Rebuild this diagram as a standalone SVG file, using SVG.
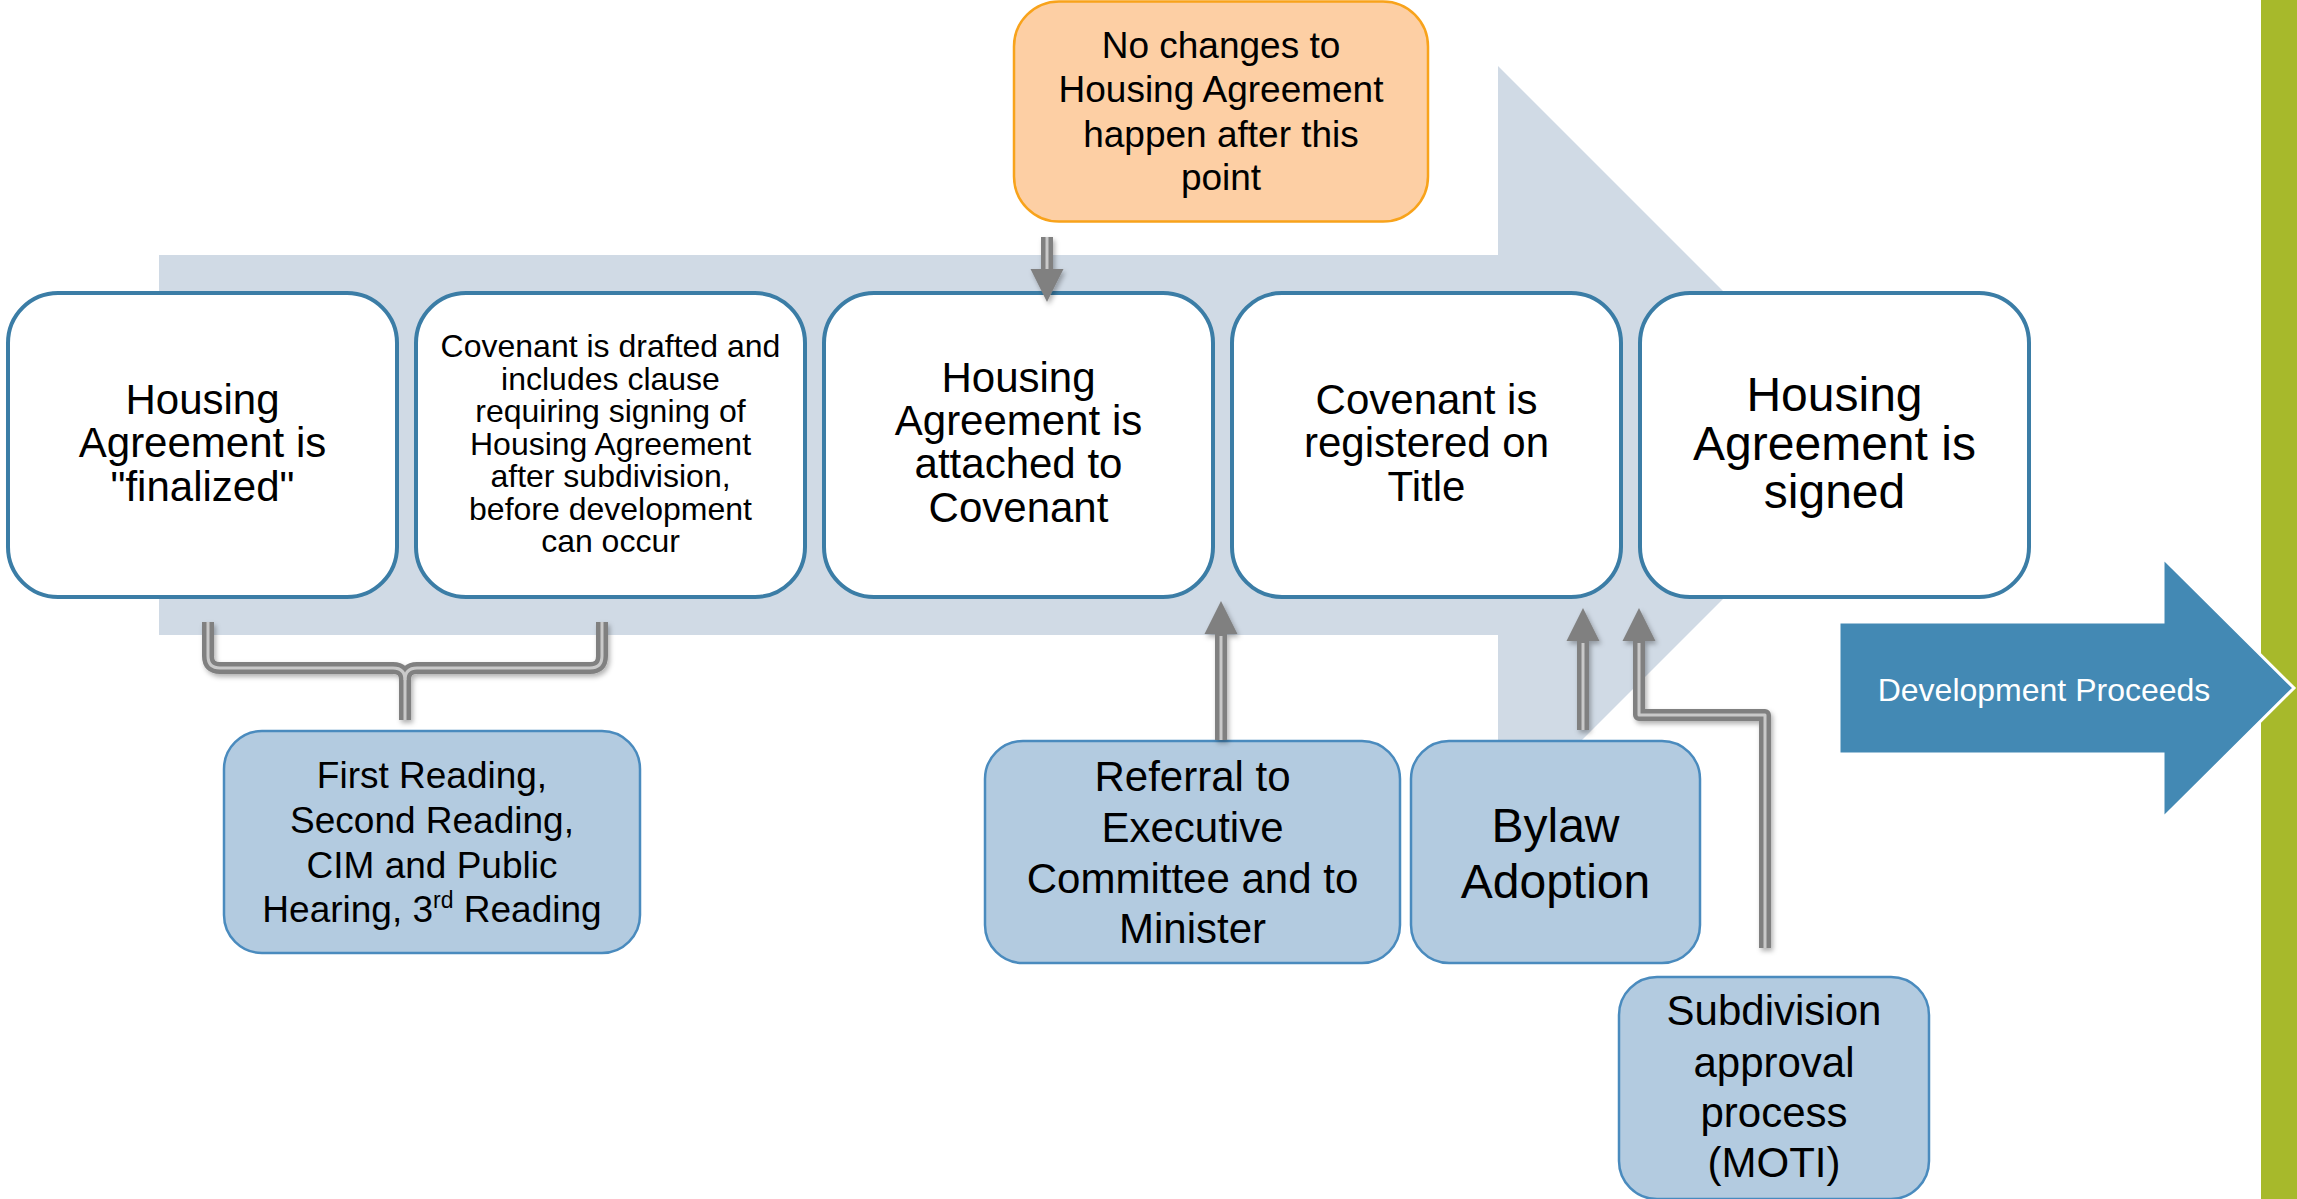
<svg xmlns="http://www.w3.org/2000/svg" width="2297" height="1199" viewBox="0 0 2297 1199">
<defs>
<style>
text{font-family:"Liberation Sans",Arial,sans-serif;fill:#000;text-anchor:middle}
.top{fill:#fff;stroke:#3B7DA6;stroke-width:4}
.low{fill:#B3CBE0;stroke:#4A8BBE;stroke-width:2.5}
.org{fill:#FDCFA4;stroke:#F8A31B;stroke-width:2.5}
.outer{fill:none;stroke:#808080;stroke-width:12;stroke-linejoin:round}
.inner{fill:none;stroke:#C9C9C9;stroke-width:3;stroke-linejoin:round}
.f42{font-size:42px}
.f32{font-size:32px}
.f37{font-size:37px}
.f48{font-size:48px}
</style>
<marker id="ah" markerUnits="userSpaceOnUse" markerWidth="34" markerHeight="34" viewBox="0 -17 34 34" refX="0" refY="0" orient="auto">
<path d="M0,-16.5 L33,0 L0,16.5 z" fill="#808080"/>
</marker>
<filter id="sh" x="-50%" y="-50%" width="200%" height="200%">
<feDropShadow dx="2" dy="3" stdDeviation="2.5" flood-color="#000" flood-opacity="0.3"/>
</filter>
</defs>
<rect width="2297" height="1199" fill="#fff"/>
<rect x="2261" y="0" width="36" height="1199" fill="#A7B92B"/>
<g id="bg-arrow">
<path d="M159,255 H1498 V66 L1877,445 L1498,824 V635 H159 z" fill="#D0DAE5"/>
</g>
<g id="dev-proceeds">
<path d="M1839,622 H2163 V558 L2294,688 L2163,818 V754 H1839 z" fill="#4389B4" stroke="#fff" stroke-width="3" stroke-linejoin="miter"/>
<text x="2044" y="701" class="f32" style="fill:#fff">Development Proceeds</text>
</g>
<g id="n1">
<rect class="top" x="8" y="293" width="389" height="304" rx="50"/>
<text class="f42"><tspan x="202.5" y="413.5">Housing</tspan><tspan x="202.5" y="457">Agreement is</tspan><tspan x="202.5" y="500.5">&quot;finalized&quot;</tspan></text>
</g>
<g id="n2">
<rect class="top" x="416" y="293" width="389" height="304" rx="50"/>
<text class="f32"><tspan x="610.5" y="357">Covenant is drafted and</tspan><tspan x="610.5" y="389.5">includes clause</tspan><tspan x="610.5" y="422">requiring signing of</tspan><tspan x="610.5" y="454.5">Housing Agreement</tspan><tspan x="610.5" y="487">after subdivision,</tspan><tspan x="610.5" y="519.5">before development</tspan><tspan x="610.5" y="552">can occur</tspan></text>
</g>
<g id="n3">
<rect class="top" x="824" y="293" width="389" height="304" rx="50"/>
<text class="f42"><tspan x="1018.5" y="392">Housing</tspan><tspan x="1018.5" y="435">Agreement is</tspan><tspan x="1018.5" y="478">attached to</tspan><tspan x="1018.5" y="522">Covenant</tspan></text>
</g>
<g id="n4">
<rect class="top" x="1232" y="293" width="389" height="304" rx="50"/>
<text class="f42"><tspan x="1426.5" y="413.5">Covenant is</tspan><tspan x="1426.5" y="457">registered on</tspan><tspan x="1426.5" y="500.5">Title</tspan></text>
</g>
<g id="n5">
<rect class="top" x="1640" y="293" width="389" height="304" rx="50"/>
<text class="f48"><tspan x="1834.5" y="411">Housing</tspan><tspan x="1834.5" y="460">Agreement is</tspan><tspan x="1834.5" y="508">signed</tspan></text>
</g>
<g id="n-nochanges">
<rect class="org" x="1014" y="1.5" width="414" height="220" rx="45"/>
<text class="f37"><tspan x="1221" y="58">No changes to</tspan><tspan x="1221" y="102">Housing Agreement</tspan><tspan x="1221" y="147">happen after this</tspan><tspan x="1221" y="190">point</tspan></text>
</g>
<g id="n-readings">
<rect class="low" x="224" y="731" width="416" height="222" rx="38"/>
<text class="f37"><tspan x="432" y="788">First Reading,</tspan><tspan x="432" y="833">Second Reading,</tspan><tspan x="432" y="878">CIM and Public</tspan><tspan x="432" y="922">Hearing, 3<tspan font-size="23" dy="-14">rd</tspan><tspan dy="14"> Reading</tspan></tspan></text>
</g>
<g id="n-referral">
<rect class="low" x="985" y="741" width="415" height="222" rx="38"/>
<text class="f42"><tspan x="1192.5" y="791">Referral to</tspan><tspan x="1192.5" y="842">Executive</tspan><tspan x="1192.5" y="893">Committee and to</tspan><tspan x="1192.5" y="943">Minister</tspan></text>
</g>
<g id="n-bylaw">
<rect class="low" x="1411" y="741" width="289" height="222" rx="38"/>
<text class="f48"><tspan x="1555.5" y="842">Bylaw</tspan><tspan x="1555.5" y="898">Adoption</tspan></text>
</g>
<g id="n-subdivision">
<rect class="low" x="1619" y="977" width="310" height="222" rx="38"/>
<text class="f42"><tspan x="1774" y="1025">Subdivision</tspan><tspan x="1774" y="1077">approval</tspan><tspan x="1774" y="1127">process</tspan><tspan x="1774" y="1177">(MOTI)</tspan></text>
</g>
<g id="connectors">
<g filter="url(#sh)">
<path class="outer" d="M208,622 V656 Q208,668 220,668 H393 Q405,668 405,680 V720"/>
<path class="outer" d="M602,622 V656 Q602,668 590,668 H417 Q405,668 405,680"/>
<path class="outer" d="M1047,237 V269" marker-end="url(#ah)"/>
<path class="outer" d="M1221,740 V634" marker-end="url(#ah)"/>
<path class="outer" d="M1583,730 V641" marker-end="url(#ah)"/>
<path class="outer" d="M1765,948 V715 H1639 V641" marker-end="url(#ah)"/>
</g>
<path class="inner" d="M208,622 V656 Q208,668 220,668 H393 Q405,668 405,680 V720"/>
<path class="inner" d="M602,622 V656 Q602,668 590,668 H417 Q405,668 405,680"/>
<path class="inner" d="M1047,237 V269"/>
<path class="inner" d="M1221,740 V636"/>
<path class="inner" d="M1583,730 V643"/>
<path class="inner" d="M1765,948 V715 H1639 V643"/>
</g>
</svg>
